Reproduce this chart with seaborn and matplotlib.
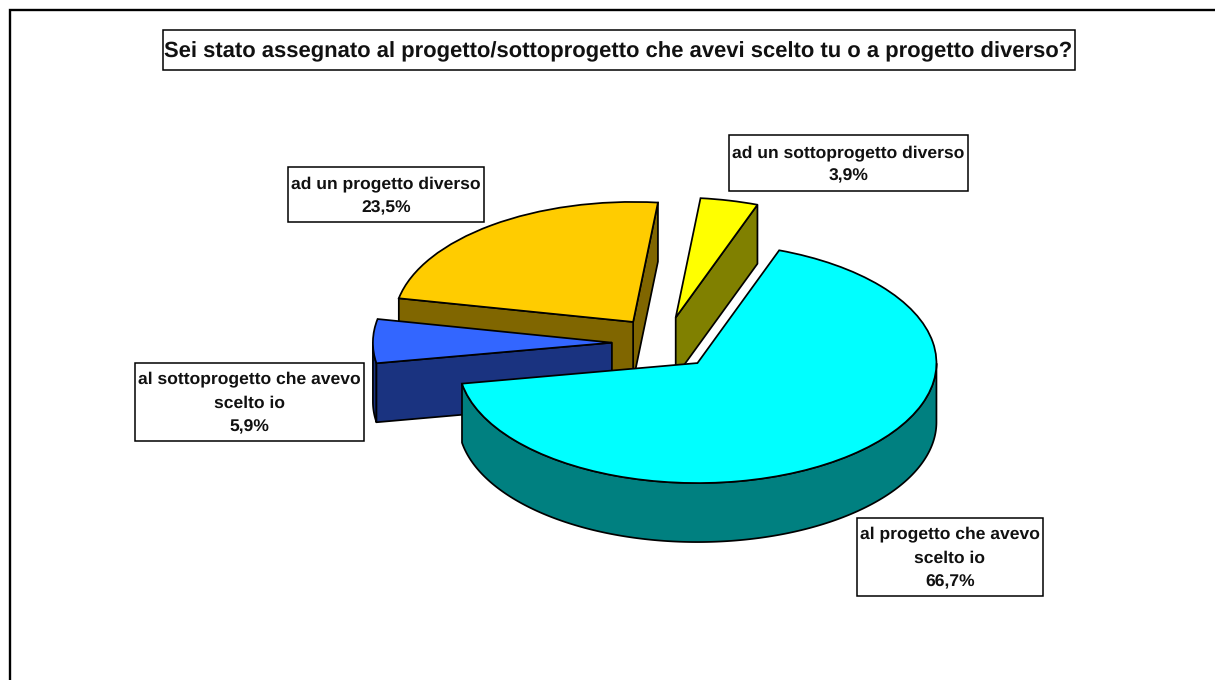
import numpy as np
import matplotlib
matplotlib.use("Agg")
import matplotlib.pyplot as plt
from matplotlib.patches import Rectangle
import seaborn as sns

sns.set_theme(style="white")
plt.rcParams['font.family'] = ['Liberation Sans', 'DejaVu Sans']
plt.rcParams['text.hinting'] = 'no_hinting'

title = "Sei stato assegnato al progetto/sottoprogetto che avevi scelto tu o a progetto diverso?"
names = ["al progetto che avevo\nscelto io", "al sottoprogetto che avevo\nscelto io",
         "ad un progetto diverso", "ad un sottoprogetto diverso"]
values = [66.7, 5.9, 23.5, 3.9]
top_colors = ["#00FFFF", "#3366FF", "#FFCC00", "#FFFF00"]
side_colors = ["#008080", "#1A3380", "#806600", "#808000"]
paint_order = [2, 3, 1, 0]  # back to front

W, H = 1215, 680
cx, cy, rx, ry, depth_px = 664, 343, 239, 120, 59
lw = 1.25
depth = depth_px / ry

fig = plt.figure(figsize=(W / 100, H / 100), dpi=100)
ax = fig.add_axes([0, 0, 1, 1])

wedges, _ = ax.pie(values, explode=[0.218] * 4, startangle=70, counterclock=False,
                   colors=top_colors, wedgeprops=dict(edgecolor="black", linewidth=lw))
ax.set_aspect("auto")
ax.set_xlim(-cx / rx, (W - cx) / rx)
ax.set_ylim((cy - H) / ry, cy / ry)
ax.axis("off")


def side_face(xs, ys, color, z):
    xs, ys = np.asarray(xs), np.asarray(ys)
    ax.fill(np.r_[xs, xs[::-1]], np.r_[ys, ys[::-1] - depth], facecolor=color,
            edgecolor="black", linewidth=lw, joinstyle="round", zorder=z)


# the extruded rim and cut faces that look toward the viewer
for k, i in enumerate(paint_order):
    w = wedges[i]
    x0, y0 = w.center
    z = 2 + k
    t = np.linspace(w.theta1, w.theta2, 600)
    t = t[np.sin(np.radians(t)) <= 0]
    if len(t):
        side_face(x0 + np.cos(np.radians(t)), y0 + np.sin(np.radians(t)), side_colors[i], z)
    for th, sign in ((w.theta1, 1), (w.theta2, -1)):
        if sign * np.cos(np.radians(th)) > 0:
            side_face([x0, x0 + np.cos(np.radians(th))], [y0, y0 + np.sin(np.radians(th))],
                      side_colors[i], z)
    w.set_zorder(z + 0.5)


def px_box(x0, y0, x1, y1):
    ax.add_patch(Rectangle((x0 / W, 1 - y1 / H), (x1 - x0) / W, (y1 - y0) / H,
                           transform=ax.transAxes, facecolor="white", edgecolor="black",
                           linewidth=1.1, zorder=10))


def px_text(x, y, s, size):
    ax.text(x / W, 1 - y / H, s, transform=ax.transAxes, ha="center", va="center",
            fontsize=size, fontweight="bold", color="#111111", linespacing=1.62, zorder=11)


# outer frame, runs off the right and bottom
ax.plot([9.5 / W, 9.5 / W, 1], [0, 1 - 10 / H, 1 - 10 / H], transform=ax.transAxes,
        color="black", linewidth=1.7, solid_joinstyle="miter", zorder=1)

px_box(163, 30, 1074.5, 70)
px_text(618.5, 51.5, title, 15.8)

boxes = [(856.5, 517.5, 1043, 595.5), (135, 362.5, 364, 440.5),
         (288, 167, 484, 222), (729, 135.5, 967.5, 190.5)]
for name, val, b in zip(names, values, boxes):
    px_box(*b)
    label = name + "\n" + f"{val:.1f}".replace(".", ",") + "%"
    px_text((b[0] + b[2]) / 2, (b[1] + b[3]) / 2 + 1.5, label, 12.6)

fig.savefig("out.png", dpi=100, facecolor="white")
